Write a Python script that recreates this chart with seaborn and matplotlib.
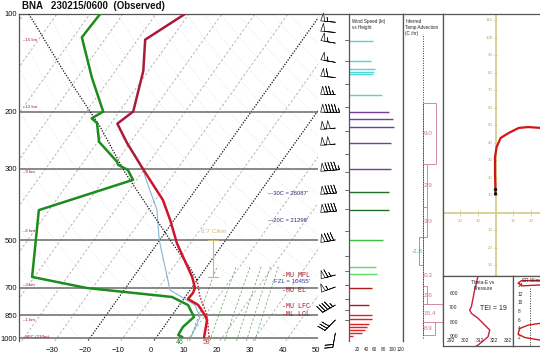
import numpy as np
import matplotlib
matplotlib.use("Agg")
import matplotlib.pyplot as plt
import matplotlib.ticker as mticker
import matplotlib.transforms as mtrans
from matplotlib.patches import Rectangle
import seaborn as sns

sns.set_theme(style="white")
plt.rcParams['font.family'] = ['Liberation Sans', 'DejaVu Sans']

# ---------------------------------------------------------------------------
# sounding data
# ---------------------------------------------------------------------------
temp_p = [993, 880, 850, 790, 758, 726, 700, 648, 510, 432, 375, 300, 250, 218, 200, 150, 120, 100]
temp_c = [14.4, 11.6, 9.9, 5.6, 1.3, 1.5, 1.0, -2.2, -14.1, -21.2, -27.7, -40.6, -50.9, -58.0,
          -55.8, -61.5, -67.7, -61.2]
dwpt_p = [993, 979, 925, 861, 791, 747, 701, 648, 403, 325, 303, 292, 286, 248, 217, 210, 200,
          157, 118, 100]
dwpt_c = [7.8, 6.1, 5.8, 7.0, 2.6, -4.0, -31.7, -50.7, -63.1, -41.1, -44.8, -48.9, -49.8, -59.6,
          -64.3, -66.9, -64.9, -75.7, -87.4, -86.9]
wetb_p = [993, 979, 861, 791, 711, 498, 403, 325, 303]
wetb_c = [10.5, 10.3, 8.8, 4.7, -6.1, -20.2, -27.3, -37.1, -40.2]
parcel_p = [993, 849, 747, 662, 608, 509, 403, 308, 223, 151, 100]
parcel_c = [15.9, 10.5, 4.5, -0.1, -4.8, -15.6, -29.4, -45.2, -62.5, -85.3, -108.5]

height_km = ['SFC (210m)', '1 km', '3 km', '6 km', '9 km', '12 km', '15 km']
height_p = [993, 880, 686, 467, 307, 194, 120]
km_tick_p = [880, 820, 760, 686, 620, 560, 467, 400, 350, 307, 270, 230, 194, 165, 140, 120]

barb_p = [106, 114, 123, 141, 157, 177, 201, 225, 252, 303, 357, 406, 498, 639, 696, 791, 880, 965]
barb_spd = [55, 50, 55, 55, 60, 75, 95, 100, 100, 95, 90, 90, 80, 65, 55, 45, 30, 20]
barb_dir = [275, 275, 280, 280, 275, 270, 270, 265, 265, 265, 265, 265, 260, 255, 250, 240, 225, 190]

spd_p = [121, 140, 148, 151, 153, 178, 201, 211, 223, 250, 301, 354, 403, 498, 604, 635, 701,
         791, 849, 874, 905, 925, 945, 965, 986]
spd_kt = [56, 51, 60, 58, 56, 77, 93, 102, 105, 98, 98, 93, 93, 79, 63, 65, 53, 46, 53, 53, 46,
          42, 37, 30, 9]

adv_top = [188, 290, 394, 488, 595, 691, 786, 893]
adv_bot = [290, 394, 488, 595, 691, 786, 893, 979]
adv_val = [9.0, 2.9, 3.0, -2.8, 0.3, 2.6, 15.4, 8.9]

hodo_u = [0, -0.3, -0.3, 0.6, 2.9, 7.4, 13.1, 18.3, 25.7, 30]
hodo_v = [10.9, 22.9, 32, 37.7, 42.9, 45.7, 48.6, 49.1, 48.6, 47]

thetae_p = [460, 579, 696, 719, 742, 777, 859, 906, 964, 985]
thetae_k = [311.5, 308.6, 306.3, 305.1, 306.3, 311.0, 319.2, 318.0, 311.0, 307.5]

sr_top_x = [11, 9.9, 3.1, 1.85, 3.7, 9.9, 11]
sr_top_km = [15.3, 15.1, 15.1, 14.5, 13.9, 14.1, 14.2]
sr_low_x = [11, 9.9, 5.6, 2.5, 1.85, 4.3, 9.9, 11]
sr_low_km = [5.2, 5.1, 4.7, 3.9, 2.6, 1.8, 1.2, 1.1]

levels_info = ["MU MPL", "MU EL", "MU LFC", "ML LCL"]
levels_info_p = [640, 716, 802, 849]

SKEW = 70.0
P_REF = 1050.0
P_BOT = 1021.5


def skew_x(t, p):
    return np.asarray(t, float) + SKEW * np.log10(P_REF / np.asarray(p, float))


def layer_color(p):
    if p >= 840:
        return '#e32222'
    if p >= 686:
        return '#b01c1c'
    if p >= 520:
        return '#5fdc5f'
    if p >= 467:
        return '#3cbf3c'
    if p >= 307:
        return '#1f6e2a'
    if p >= 194:
        return '#7a3c9a'
    return '#4fd6d6'


fig = plt.figure(figsize=(5.4, 3.54), dpi=100)
W, H = 540.0, 354.0


def box(x0, y0, x1, y1):
    return [x0 / W, 1 - y1 / H, (x1 - x0) / W, (y1 - y0) / H]


ax = fig.add_axes(box(19, 14, 318, 341))
ax_b = fig.add_axes(box(318, 14, 349, 341), sharey=ax)
ax_s = fig.add_axes(box(349, 14, 403, 341), sharey=ax)
ax_a = fig.add_axes(box(403, 14, 443, 341), sharey=ax)
ax_h = fig.add_axes(box(443, 14, 541, 276))
ax_t = fig.add_axes(box(443, 276, 513, 346))
ax_r = fig.add_axes(box(513, 276, 542, 346))

edge = '#555555'
for a in [ax, ax_b, ax_s, ax_a, ax_h, ax_t, ax_r]:
    for s in a.spines.values():
        s.set_color(edge)
        s.set_linewidth(0.9)

# ---------------------------------------------------------------------------
# skew-T
# ---------------------------------------------------------------------------
ax.set_yscale('log')
ax.set_ylim(P_BOT, 100)
ax.set_xlim(-40, 50.6)
p_grid = np.geomspace(1050, 100, 80)

for theta in range(250, 480, 10):
    t = theta * (p_grid / 1000.0) ** 0.2857 - 273.15
    ax.plot(skew_x(t, p_grid), p_grid, color='#dedede', lw=0.45, ls=(0, (2, 3)), zorder=1)
for t in range(-160, 60, 10):
    if t in (-20, 0):
        ax.plot(skew_x(t, p_grid), p_grid, color='#111111', lw=0.9, ls=(0, (1, 1.2)), zorder=2)
    else:
        ax.plot(skew_x(t, p_grid), p_grid, color='#acacac', lw=0.6, ls=(0, (3, 2.5)), zorder=1)

p_mix = np.geomspace(1050, 600, 30)
for w in [8, 12, 16, 20, 24, 28]:
    e = w * p_mix / (622.0 + w)
    lg = np.log(e / 6.112)
    td = 243.5 * lg / (17.67 - lg)
    ax.plot(skew_x(td, p_mix), p_mix, color='#5fab5f', lw=0.55, ls=(0, (3, 2.5)), zorder=1)

for lev in [200, 300, 500, 700, 850, 1000]:
    ax.axhline(lev, color='#6a6a6a', lw=1.1, zorder=2)

sns.lineplot(x=skew_x(wetb_c, wetb_p), y=wetb_p, sort=False, estimator=None,
             color='#86b4d6', lw=0.8, ax=ax, zorder=3)
pp = np.array(parcel_p)
pc = np.array(parcel_c)
low = pp >= 660
high = pp <= 662
sns.lineplot(x=skew_x(pc[low], pp[low]), y=pp[low], sort=False, estimator=None,
             color='#d02020', lw=1.1, ls=(0, (1, 1.1)), ax=ax, zorder=4)
sns.lineplot(x=skew_x(pc[high], pp[high]), y=pp[high], sort=False, estimator=None,
             color='#111111', lw=0.9, ls=(0, (1, 1.2)), ax=ax, zorder=4)
sns.lineplot(x=skew_x(dwpt_c, dwpt_p), y=dwpt_p, sort=False, estimator=None,
             color='#1c8c1c', lw=1.8, ax=ax, zorder=5)
tp = np.array(temp_p)
tc = np.array(temp_c)
sns.lineplot(x=skew_x(tc[tp >= 300], tp[tp >= 300]), y=tp[tp >= 300], sort=False,
             estimator=None, color='#d0142a', lw=1.8, ax=ax, zorder=6)
sns.lineplot(x=skew_x(tc[tp <= 300], tp[tp <= 300]), y=tp[tp <= 300], sort=False,
             estimator=None, color='#a81c3a', lw=1.8, ax=ax, zorder=6)

ax.yaxis.set_major_locator(mticker.FixedLocator([100, 200, 300, 500, 700, 850, 1000]))
ax.yaxis.set_major_formatter(mticker.FormatStrFormatter('%d'))
ax.yaxis.set_minor_locator(mticker.NullLocator())
ax.set_xticks(range(-30, 51, 10))
ax.tick_params(axis='y', labelsize=5.5, length=0, pad=1.5, colors='#111111')
ax.tick_params(axis='x', labelsize=5.5, length=0, pad=4.5, colors='#111111')
ax.spines['bottom'].set_visible(False)
ax.spines['right'].set_visible(False)
ax.set_xlabel('')
ax.set_ylabel('')

# height markers on the left edge
blend = mtrans.blended_transform_factory(ax.transAxes, ax.transData)
for lab, p in zip(height_km, height_p):
    ax.text(0.012, p, '\u2013' + lab, transform=blend, fontsize=3.2, color='#a0142a',
            va='center', ha='left')

# surface values in F
ax.text(skew_x(dwpt_c[0], dwpt_p[0]) - 0.8, 1033, '%d' % round(dwpt_c[0] * 9 / 5 + 32),
        fontsize=5, color='#2a8a2a', ha='center', va='center')
ax.text(skew_x(temp_c[0], temp_p[0]) + 0.8, 1033, '%d' % round(temp_c[0] * 9 / 5 + 32),
        fontsize=5, color='#e03030', ha='center', va='center')

# lapse-rate bracket
lapse_p = [500, 648]
ax.plot([18.8, 18.8], lapse_p, color='#c9b87a', lw=0.8, zorder=4)
for p in lapse_p:
    ax.plot([17.4, 20.4], [p, p], color='#c9b87a', lw=0.8, zorder=4)
ax.text(19.0, 478, '6.7 C/km', fontsize=4.6, color='#c9b87a', ha='center', va='bottom')

ax.text(35.5, 357, "\u2013-30C = 26087'", fontsize=4.2, color='#2a2a7a', ha='left', va='center')
ax.text(35.5, 435, "\u2013-20C = 21298'", fontsize=4.2, color='#2a2a7a', ha='left', va='center')
ax.text(36.8, 671, "-FZL = 10455'", fontsize=4.4, color='#2a3a9a', ha='left', va='center')
for lab, p in zip(levels_info, levels_info_p):
    ax.text(39.8, p, '-' + lab, fontsize=4.8, color='#a01424', ha='left', va='center',
            family='Liberation Mono')

fig.text(22 / W, 1 - 6 / H, 'BNA   230215/0600  (Observed)', fontsize=7, fontweight='bold',
         ha='left', va='center', color='#111111')

# ---------------------------------------------------------------------------
# wind barbs
# ---------------------------------------------------------------------------
ax_b.set_xlim(0, 1)
rad = np.deg2rad(barb_dir)
bu = -np.array(barb_spd) * np.sin(rad)
bv = -np.array(barb_spd) * np.cos(rad)
ax_b.barbs(np.full(len(barb_p), 0.56), barb_p, bu, bv, length=4.6, lw=0.5,
           barbcolor='#111111', flagcolor='white',
           sizes=dict(spacing=0.2, height=0.55, width=0.28), clip_on=False)
ax_b.tick_params(left=False, labelleft=False, bottom=False, labelbottom=False)
for s in ['left', 'right', 'bottom']:
    ax_b.spines[s].set_visible(False)

# ---------------------------------------------------------------------------
# wind speed vs height
# ---------------------------------------------------------------------------
ax_s.set_xlim(0, 125.6)
ax_s.hlines(spd_p, 0, spd_kt, colors=[layer_color(p) for p in spd_p], lw=1.0)
ax_s.set_xticks([20, 40, 60, 80, 100, 120])
ax_s.set_xticklabels(['20', '40', '60', '80', '100', '120'])
ax_s.tick_params(axis='x', labelsize=3.4, length=0, pad=4.0)
ax_s.tick_params(axis='y', left=False, labelleft=False)
blend_s = mtrans.blended_transform_factory(ax_s.transAxes, ax_s.transData)
for p in km_tick_p:
    ax_s.plot([-0.07, 0], [p, p], color=edge, lw=0.6, transform=blend_s, clip_on=False)
ax_s.spines['bottom'].set_visible(False)
ax_s.text(0.06, 0.985, 'Wind Speed (kt)\nvs Height', transform=ax_s.transAxes, fontsize=3.3,
          va='top', ha='left', color='#222222', linespacing=1.3)

# ---------------------------------------------------------------------------
# inferred temperature advection
# ---------------------------------------------------------------------------
ax_a.set_xlim(-14.3, 14.3)
ax_a.plot([0, 0], [1000, 115], color='#333333', lw=0.7, ls=(0, (1, 1.5)))
for top, bot, val in zip(adv_top, adv_bot, adv_val):
    col = '#d58aa0' if val > 0 else '#46bcd4'
    ax_a.add_patch(Rectangle((0, top), val, bot - top, fill=False, ec=col, lw=0.7))
    ym = np.sqrt(top * bot)
    if val > 0:
        ax_a.text(0.5, ym, '%.1f' % val, fontsize=4.6, color='#c97a92', ha='left', va='center')
    else:
        ax_a.text(-0.5, ym, '%.1f' % val, fontsize=4.6, color='#3fb4cc', ha='right', va='center')
ax_a.tick_params(left=False, labelleft=False, bottom=False, labelbottom=False)
ax_a.spines['bottom'].set_visible(False)
ax_a.text(0.06, 0.985, 'Inferred\nTemp Advection\n(C /hr)', transform=ax_a.transAxes,
          fontsize=3.3, va='top', ha='left', color='#222222', linespacing=1.3)

# ---------------------------------------------------------------------------
# hodograph
# ---------------------------------------------------------------------------
ax_h.set_xlim(-29.7, 25.7)
ax_h.set_ylim(-36, 113.7)
olive = '#d4cf8e'
ax_h.axvline(0, color=olive, lw=1.3, zorder=1)
ax_h.axhline(0, color=olive, lw=1.3, zorder=1)
for v in [-30, -20, -10, 10, 20, 30, 40, 50, 60, 70, 80, 90, 100, 110]:
    ax_h.plot([-1, 1], [v, v], color=olive, lw=0.6)
    ax_h.text(-1.6, v, str(abs(v)), fontsize=3.2, color='#b5ad63', ha='right', va='center')
for u in [-20, -10, 10, 20]:
    ax_h.plot([u, u], [-1.5, 1.5], color=olive, lw=0.6)
    ax_h.text(u, -4.5, str(abs(u)), fontsize=3.2, color='#b5ad63', ha='center', va='center')
sns.lineplot(x=hodo_u, y=hodo_v, sort=False, estimator=None, color='#d41414', lw=1.6, ax=ax_h)
sns.scatterplot(x=hodo_u[:1] * 2, y=[hodo_v[0], hodo_v[0] + 2.5], color='#111111', s=6,
                ax=ax_h, zorder=5, edgecolor='none')
ax_h.tick_params(left=False, labelleft=False, bottom=False, labelbottom=False)
ax_h.spines['right'].set_visible(False)

# ---------------------------------------------------------------------------
# theta-e vs pressure
# ---------------------------------------------------------------------------
ax_t.set_xlim(286.4, 335.5)
ax_t.set_ylim(970.6, 481)
sns.lineplot(x=thetae_k, y=thetae_p, sort=False, estimator=None, color='#c81e3c', lw=1.0,
             ax=ax_t, orient='y')
ax_t.set_yticks([600, 700, 800, 900])
ax_t.set_xticks([292, 302, 312, 322, 332])
ax_t.tick_params(axis='y', direction='in', length=2.5, width=0.6, pad=-4.5, labelsize=3.6,
                 color=edge)
ax_t.tick_params(axis='x', direction='in', length=2, width=0.6, pad=-5.5, labelsize=3.6,
                 color=edge)
for lbl in ax_t.get_yticklabels():
    lbl.set_ha('left')
ax_t.set_xlabel('')
ax_t.set_ylabel('')
ax_t.text(0.57, 0.95, 'Theta-E vs\nPressure', transform=ax_t.transAxes, fontsize=3.4,
          ha='center', va='top', linespacing=1.3)
ax_t.text(0.72, 0.54, 'TEI = 19', transform=ax_t.transAxes, fontsize=5, ha='center',
          va='center', color='#222222')

# ---------------------------------------------------------------------------
# storm relative wind vs height
# ---------------------------------------------------------------------------
ax_r.set_xlim(0, 10.7)
ax_r.set_ylim(-0.2, 16.2)
ax_r.plot([6.3, 6.3], [0, 13.5], color='#333333', lw=0.7, ls=(0, (1, 1.5)))
sns.lineplot(x=sr_top_x, y=sr_top_km, sort=False, estimator=None, color='#d01818', lw=1.0,
             ax=ax_r)
sns.lineplot(x=sr_low_x, y=sr_low_km, sort=False, estimator=None, color='#d01818', lw=1.0,
             ax=ax_r)
ax_r.set_yticks([2, 4, 6, 8, 10, 12, 14])
ax_r.tick_params(axis='y', direction='in', length=2, width=0.6, pad=-3.5, labelsize=3.4,
                 color=edge)
for lbl in ax_r.get_yticklabels():
    lbl.set_ha('left')
ax_r.tick_params(axis='x', bottom=False, labelbottom=False)
ax_r.text(0.3, 0.97, 'SR Wind', transform=ax_r.transAxes, fontsize=3.4, ha='left', va='top')
ax_r.spines['right'].set_visible(False)

fig.savefig('out.png', dpi=100, facecolor='white')
